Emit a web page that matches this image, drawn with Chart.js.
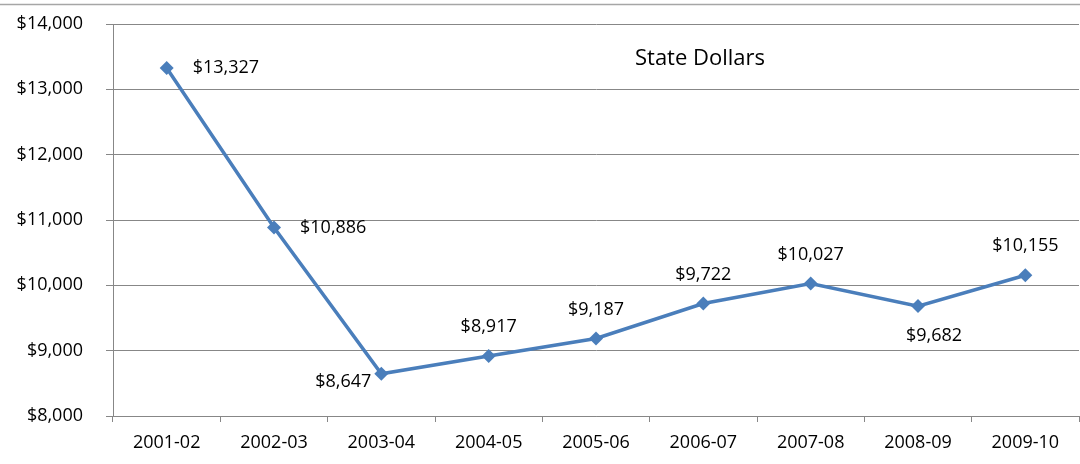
<!DOCTYPE html>
<html>
<head>
<meta charset="utf-8">
<script src="https://cdn.jsdelivr.net/npm/chart.js@4"></script>
<style>
  html, body { margin: 0; padding: 0; background: #fff; overflow: hidden; }
  #wrap { width: 1086px; height: 464px; position: relative; }
</style>
</head>
<body>
<div id="wrap"><canvas id="chart"></canvas></div>
<script>
const years = ['2001-02', '2002-03', '2003-04', '2004-05', '2005-06', '2006-07', '2007-08', '2008-09', '2009-10'];
const stateDollars = [13327, 10886, 8647, 8917, 9187, 9722, 10027, 9682, 10155];
const yTicks = [8000, 9000, 10000, 11000, 12000, 13000, 14000];

// where each value label sits next to its point
const labelSpots = ['right', 'right', 'left', 'above', 'above', 'above', 'above', 'below', 'above'];

const FONT = '"Open Sans", "Liberation Sans", sans-serif';
const fmt = v => '$' + v.toLocaleString('en-US');

const extras = {
  id: 'extras',
  afterDraw(chart) {
    const ctx = chart.ctx;
    ctx.save();
    // frame line along the top
    ctx.strokeStyle = '#a6a6a6';
    ctx.lineWidth = 1.5;
    ctx.beginPath();
    ctx.moveTo(0, 4.5);
    ctx.lineTo(chart.width, 4.5);
    ctx.stroke();

    ctx.fillStyle = '#000';
    ctx.font = '22px ' + FONT;
    ctx.textAlign = 'center';
    ctx.textBaseline = 'middle';
    ctx.fillText('State Dollars', 700, 59);

    ctx.font = '18px ' + FONT;
    const meta = chart.getDatasetMeta(0);
    meta.data.forEach((pt, i) => {
      const txt = fmt(stateDollars[i]);
      const spot = labelSpots[i];
      let x = pt.x, y = pt.y;
      if (spot === 'right') { ctx.textAlign = 'left'; x += 26; }
      else if (spot === 'left') { ctx.textAlign = 'right'; x -= 10; y += 8; }
      else if (spot === 'above') { ctx.textAlign = 'center'; y -= 29; }
      else { ctx.textAlign = 'center'; x += 16; y += 30; }
      ctx.fillText(txt, x, y);
    });
    ctx.restore();
  }
};

new Chart(document.getElementById('chart'), {
  type: 'line',
  data: {
    labels: years,
    datasets: [{
      label: 'State Dollars',
      data: stateDollars,
      borderColor: '#4a7ebb',
      backgroundColor: '#4a7ebb',
      borderWidth: 3.5,
      tension: 0,
      pointStyle: 'rectRot',
      pointRadius: 7,
      pointBorderWidth: 0
    }]
  },
  options: {
    responsive: true,
    maintainAspectRatio: false,
    animation: false,
    layout: { padding: { top: 24, right: 1, left: 0, bottom: 0 } },
    plugins: {
      legend: { display: false },
      tooltip: { enabled: false }
    },
    scales: {
      x: {
        offset: true,
        afterFit(s) { s.height = 48; s.paddingLeft = 0; s.paddingRight = 0; },
        grid: { drawOnChartArea: false, drawTicks: true, tickLength: 6, color: '#878787', offset: true },
        border: { color: '#878787', width: 1 },
        ticks: { color: '#000', font: { family: FONT, size: 18 }, padding: 10, maxRotation: 0, autoSkip: false }
      },
      y: {
        min: 8000,
        max: 14000,
        afterFit(s) { s.width = 113; s.paddingTop = 0; s.paddingBottom = 0; },
        afterBuildTicks(s) { s.ticks = yTicks.map(v => ({ value: v })); },
        grid: { color: '#878787', tickLength: 7 },
        border: { color: '#878787', width: 1 },
        ticks: { color: '#000', font: { family: FONT, size: 18 }, padding: 23, callback: v => fmt(v) }
      }
    }
  },
  plugins: [extras]
});
</script>
</body>
</html>
